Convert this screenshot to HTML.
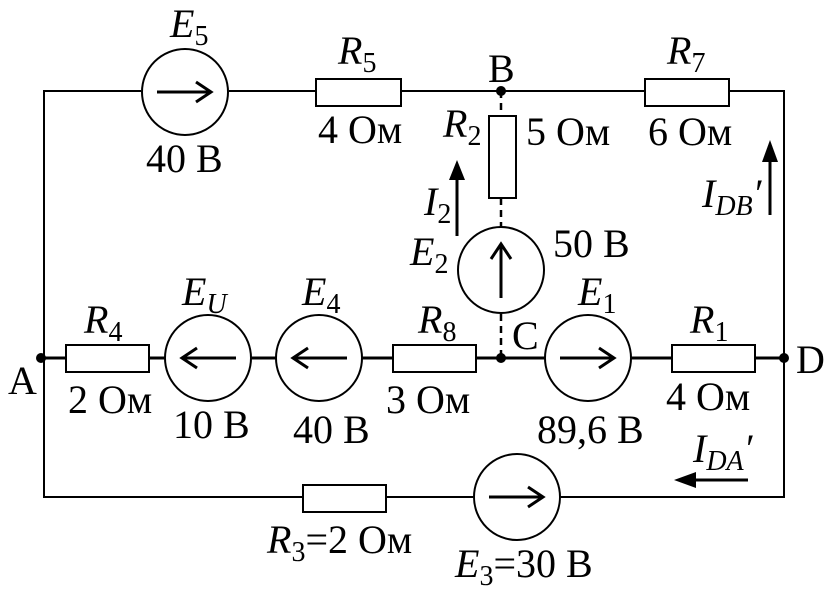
<!DOCTYPE html>
<html><head><meta charset="utf-8"><style>
html,body{margin:0;padding:0;background:#fff;}
svg{display:block;}
text{font-family:"Liberation Serif",serif;font-size:40px;fill:#000;}
.i{font-style:italic;}
.s{font-size:28px;font-style:normal;}
.si{font-size:28px;font-style:italic;}
</style></head><body>
<svg width="837" height="597" viewBox="0 0 837 597" xmlns="http://www.w3.org/2000/svg">
<g stroke="#000" fill="none" stroke-width="2">
<polyline points="141,91 44,91 44,497 473,497"/>
<line x1="229" y1="91" x2="645" y2="91"/>
<polyline points="729,91 784,91 784,497 561,497"/>
<line x1="40" y1="358" x2="784" y2="358" stroke-width="3"/>
<line x1="501" y1="91" x2="501" y2="116" stroke-dasharray="7,5" stroke-width="2.5"/>
<line x1="501" y1="198" x2="501" y2="228" stroke-dasharray="7,5" stroke-width="2.5"/>
<line x1="501" y1="314" x2="501" y2="358" stroke-dasharray="7,5" stroke-width="2.5"/>
</g>
<g stroke="#000" fill="#fff" stroke-width="2">
<rect x="316" y="79" width="85" height="27"/>
<rect x="645" y="79" width="84" height="27"/>
<rect x="489" y="116" width="27" height="82"/>
<rect x="66" y="345" width="83" height="27"/>
<rect x="393" y="345" width="83" height="27"/>
<rect x="672" y="345" width="83" height="27"/>
<rect x="303" y="485" width="83" height="27"/>
<circle cx="185" cy="92" r="43"/>
<circle cx="501" cy="270" r="43"/>
<circle cx="208" cy="358" r="43"/>
<circle cx="319" cy="358" r="43"/>
<circle cx="588" cy="358" r="43"/>
<circle cx="517" cy="497" r="43"/>
</g>
<g stroke="#000" fill="none" stroke-width="3">
<path d="M157,92 H211 M196,82 L211,92 L196,102"/>
<path d="M560,358 H614 M599,348 L614,358 L599,368"/>
<path d="M489,497 H543 M528,487 L543,497 L528,507"/>
<path d="M236,358 H182 M197,348 L182,358 L197,368"/>
<path d="M347,358 H293 M308,348 L293,358 L308,368"/>
<path d="M501,298 V244 M491,259 L501,244 L511,259"/>
<line x1="457" y1="236" x2="457" y2="175"/>
<line x1="770" y1="215" x2="770" y2="155"/>
<line x1="748" y1="480" x2="690" y2="480"/>
</g>
<g fill="#000">
<polygon points="457,160 449,180 465,180"/>
<polygon points="770,140 762,162 778,162"/>
<polygon points="674,480 696,472 696,488"/>
<circle cx="501" cy="91" r="5"/>
<circle cx="501" cy="358" r="5"/>
<circle cx="41" cy="358" r="5"/>
<circle cx="784" cy="358" r="5"/>
</g>
<text x="170" y="37" class="i">E<tspan class="s" dy="8">5</tspan></text>
<text x="146" y="172">40 В</text>
<text x="338" y="64" class="i">R<tspan class="s" dy="8">5</tspan></text>
<text x="318" y="143">4 Ом</text>
<text x="488" y="82">B</text>
<text x="667" y="64" class="i">R<tspan class="s" dy="8">7</tspan></text>
<text x="648" y="145">6 Ом</text>
<text x="443" y="137" class="i">R<tspan class="s" dy="8">2</tspan></text>
<text x="526" y="145">5 Ом</text>
<text x="424" y="215" class="i">I<tspan class="s" dy="8">2</tspan></text>
<text x="410" y="265" class="i">E<tspan class="s" dy="8">2</tspan></text>
<text x="553" y="257">50 В</text>
<text x="702" y="207" class="i">I<tspan class="si" dy="8">DB</tspan><tspan dy="-8">′</tspan></text>
<text x="578" y="305" class="i">E<tspan class="s" dy="8">1</tspan></text>
<text x="690" y="333" class="i">R<tspan class="s" dy="8">1</tspan></text>
<text x="512" y="349">C</text>
<text x="796" y="373">D</text>
<text x="8" y="394">A</text>
<text x="84" y="333" class="i">R<tspan class="s" dy="8">4</tspan></text>
<text x="68" y="413">2 Ом</text>
<text x="182" y="305" class="i">E<tspan class="si" dy="8">U</tspan></text>
<text x="173" y="438">10 В</text>
<text x="302" y="305" class="i">E<tspan class="s" dy="8">4</tspan></text>
<text x="293" y="443">40 В</text>
<text x="418" y="333" class="i">R<tspan class="s" dy="8">8</tspan></text>
<text x="386" y="413">3 Ом</text>
<text x="537" y="443">89,6 В</text>
<text x="666" y="410">4 Ом</text>
<text x="693" y="462" class="i">I<tspan class="si" dy="8">DA</tspan><tspan dy="-8">′</tspan></text>
<text x="267" y="553"><tspan class="i">R</tspan><tspan class="s" dy="8">3</tspan><tspan dy="-8">=2 Ом</tspan></text>
<text x="455" y="577"><tspan class="i">E</tspan><tspan class="s" dy="8">3</tspan><tspan dy="-8">=30 В</tspan></text>
</svg>
</body></html>
